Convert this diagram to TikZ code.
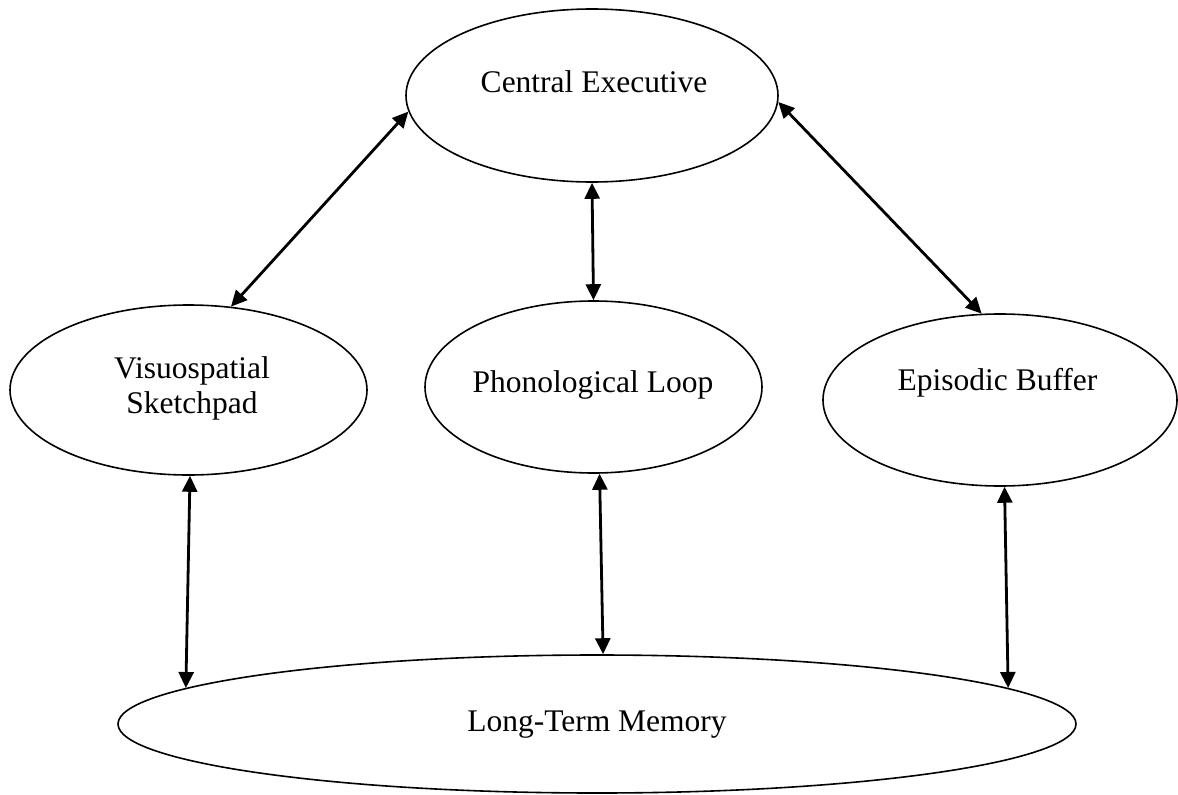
\documentclass[tikz,border=0pt]{standalone}
\usepackage{fontspec}
\setmainfont{Liberation Serif}
\usetikzlibrary{arrows.meta,shapes.geometric}
\begin{document}
\begin{tikzpicture}[x=1pt,y=-1pt,
  oval/.style={draw, line width=1.6pt, ellipse, inner sep=0pt},
  lbl/.style={anchor=base, inner sep=0pt, align=center, font=\fontsize{31.5}{35}\selectfont},
  link/.style={line width=2.8pt, {Triangle[length=16pt,width=15pt]}-{Triangle[length=16pt,width=15pt]}}]
\useasboundingbox (0,0) rectangle (1178,795);
\node[oval, minimum width=372pt, minimum height=173pt] (ce) at (592,95.5) {};
\node[oval, minimum width=357pt, minimum height=170pt] (vs) at (188.5,390) {};
\node[oval, minimum width=337pt, minimum height=172pt] (pl) at (593.5,387) {};
\node[oval, minimum width=354pt, minimum height=172pt] (eb) at (1000,400) {};
\node[oval, minimum width=958pt, minimum height=138pt] (lt) at (597,724) {};
\node[lbl] (cet) at (594,92) {Central Executive};
\node[lbl] (vst) at (192,413) {Visuospatial\\Sketchpad};
\node[lbl] (plt) at (593,392) {Phonological Loop};
\node[lbl] (ebt) at (997.5,390) {Episodic Buffer};
\node[lbl] (ltt) at (597,731) {Long-Term Memory};
\draw[link] (ce.185) -- (vs.63);
\draw[link] (ce.south) -- (pl.north);
\draw[link] (ce.-2) -- (eb.102);
\draw[link] (vs.-89) -- (lt.175);
\draw[link] (pl.-86) -- (lt.85);
\draw[link] (eb.-87) -- (lt.5);
\end{tikzpicture}
\end{document}
